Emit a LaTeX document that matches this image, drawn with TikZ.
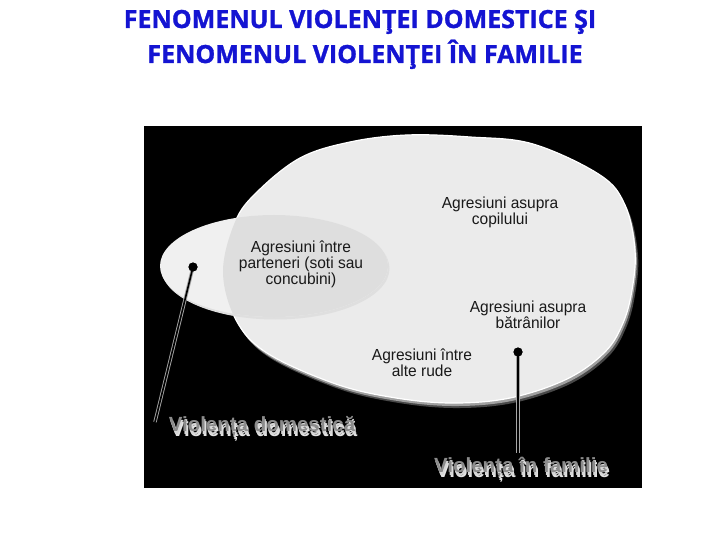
\documentclass[tikz,border=0pt]{standalone}
\usepackage{fontspec}
\setmainfont{Liberation Sans}
\newfontfamily\titlefont[FakeBold=1.2]{Open Sans}
\newfontfamily\innerfont[FakeStretch=0.97]{Liberation Sans}
\usetikzlibrary{calc}
\definecolor{titleblue}{RGB}{20,20,210}
\definecolor{bigfill}{RGB}{235,235,235}
\definecolor{leftfill}{RGB}{240,240,240}
\definecolor{interfill}{RGB}{222,222,222}
\definecolor{shadowgray}{RGB}{160,160,160}
\definecolor{labgray}{RGB}{140,140,140}
\definecolor{labshadow}{RGB}{215,215,215}
\tikzset{
  titletext/.style={font=\titlefont\bfseries\fontsize{25}{30}\selectfont, text=titleblue, anchor=base, inner sep=0pt},
  innertext/.style={font=\innerfont\fontsize{16}{14.5}\selectfont, align=center, text=black!90, inner sep=0pt},
  biglabel/.style={font=\bfseries\fontsize{20.5}{24}\selectfont, anchor=base, inner sep=0pt},
  dotnode/.style={circle, fill=black, inner sep=0pt, minimum size=9pt},
  connector/.style={draw=gray!70, double=black, double distance=1.6pt, line width=0.9pt}
}
\def\bigpath{plot[smooth cycle, tension=0.6] coordinates {(407,135) (470,137) (533,144) (600,175) (625,205) (635,250) (632,290) (623,323) (605,352) (567,379) (510,398) (450,403) (390,397) (333,383) (267,353) (236,320) (223,272) (235,222) (257,192) (300,158) (350,142)}}
\begin{document}
\begin{tikzpicture}[x=1pt,y=-1pt]
\useasboundingbox (0,0) rectangle (720,540);
\fill[white] (0,0) rectangle (720,540);
% title
\node[titletext] (t1) at (360,28) {FENOMENUL VIOLENŢEI DOMESTICE ŞI};
\node[titletext] (t2) at (365,63) {FENOMENUL VIOLENŢEI ÎN FAMILIE};
% black panel
\fill[black] (144,126) rectangle (642,488);
% big ellipse with shadow
\fill[shadowgray!45!black, shift={(3,5)}] \bigpath;
\fill[shadowgray, shift={(1.5,3)}] \bigpath;
\filldraw[fill=bigfill, draw=white, line width=1.2pt] \bigpath;
% small ellipse
\fill[gray!25, shift={(1.5,2.5)}] (274,266) ellipse [x radius=114pt, y radius=51pt];
\fill[leftfill] (274,266) ellipse [x radius=114pt, y radius=51pt];
\begin{scope}
  \clip \bigpath;
  \fill[interfill] (274,266) ellipse [x radius=114pt, y radius=51pt];
\end{scope}
% texts inside
\node[innertext] (copil) at (500,212) {Agresiuni asupra\\copilului};
\node[innertext] (parten) at (301,264) {Agresiuni între\\parteneri (soti sau\\concubini)};
\node[innertext] (batran) at (528,315) {Agresiuni asupra\\bătrânilor};
\node[innertext] (rude) at (422,363) {Agresiuni între\\alte rude};
% dots and connectors
\node[dotnode] (d1) at (193,267) {};
\node[dotnode] (d2) at (518,352) {};
\coordinate (e1) at (155,422);
\coordinate (e2) at (518,453);
\draw[connector] (d1.center) -- (e1);
\draw[connector] (d2.center) -- (e2);
\node[dotnode] at (d1) {};
\node[dotnode] at (d2) {};
% labels
\node[biglabel, text=labshadow!70] (vdS2) at (264,436) {Violența domestică};
\node[biglabel, text=labshadow] (vdS) at (263,434) {Violența domestică};
\node[biglabel, text=labgray] (vd) at (262,431) {Violența domestică};
\node[biglabel, text=labshadow!70] (vfS2) at (523,477) {Violența în familie};
\node[biglabel, text=labshadow] (vfS) at (522,475) {Violența în familie};
\node[biglabel, text=labgray] (vf) at (521,472) {Violența în familie};
\end{tikzpicture}
\end{document}
